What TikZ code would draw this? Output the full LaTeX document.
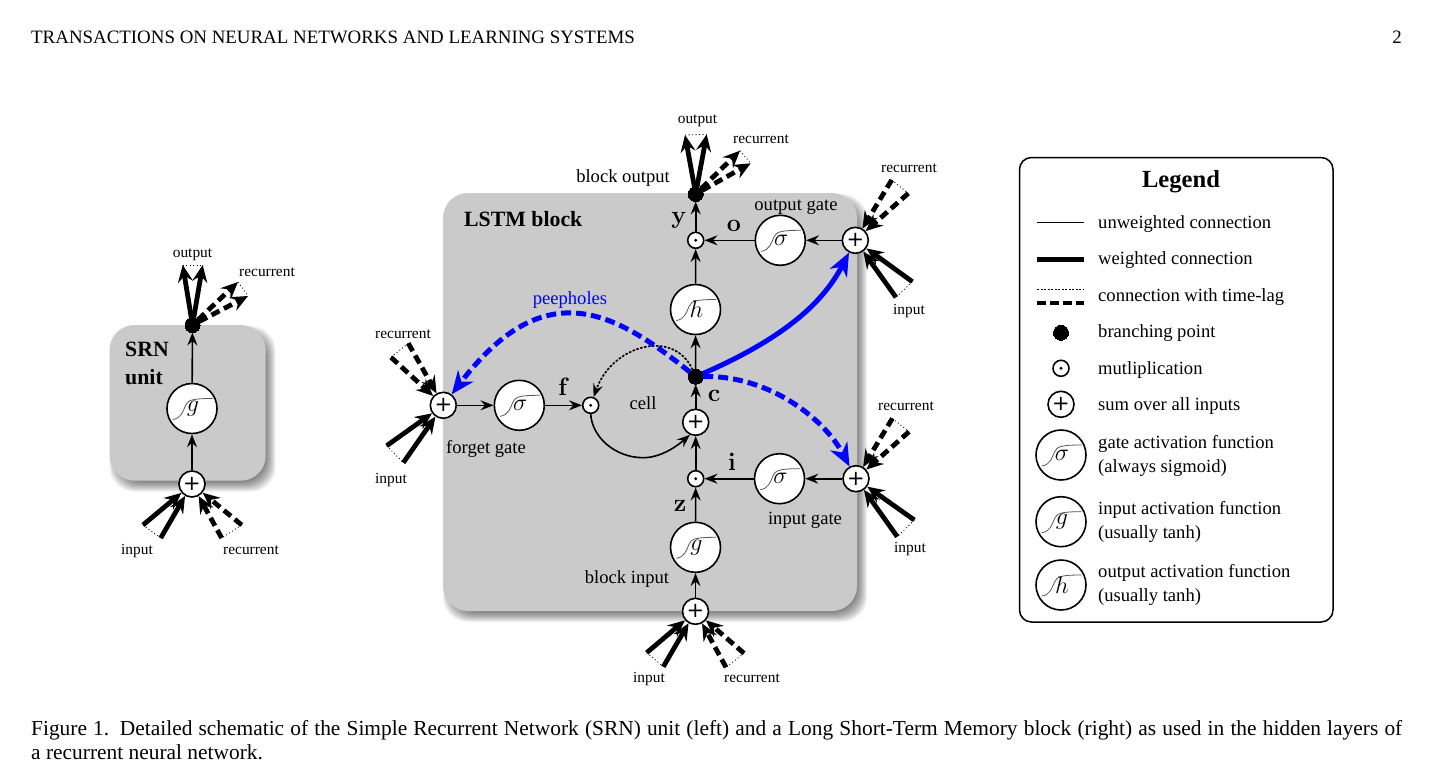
\documentclass[tikz,border=0pt]{standalone}
\usepackage{fix-cm}
\usepackage[no-math]{fontspec}
\setmainfont{Liberation Serif}
\newfontfamily\plusfont{DejaVu Sans}
\usetikzlibrary{arrows.meta}
\definecolor{blockgray}{HTML}{CACACA}
\newcommand{\softshadow}[4]{%
  \foreach \e in {5,4,3,2,1,0,-1,-2,-3,-4,-5}{%
    \fill[black,opacity=.055,rounded corners=25pt] ({#1+5-\e},{#2+6-\e}) rectangle ({#3+5+\e},{#4+6+\e});
  }%
}
\newcommand{\fnc}[4]{%
  \node[fn] (#1) at (#2,#3) {};
  \begin{scope}[shift={(#2,#3)}]
    \draw[sigcurve] (-19.3,11) .. controls (-11,10) and (-9,3) .. (-6.5,-3) .. controls (-4,-8.5) and (0,-10) .. (20.5,-10);
    \node[fnsym] (#1sym) at (1,0) {$#4$};
  \end{scope}
}
\tikzset{
  lab/.style={font=\fontsize{18.6}{22}\selectfont,anchor=mid,inner sep=0pt,yshift=-4pt},
  small/.style={font=\fontsize{15.4}{18}\selectfont,anchor=mid,inner sep=0pt,yshift=-3pt},
  boldl/.style={font=\fontsize{21.8}{26}\selectfont\bfseries,anchor=mid,inner sep=0pt},
  vec/.style={font=\fontsize{25}{28}\selectfont,anchor=mid,inner sep=0pt,yshift=-4pt},
  leg/.style={font=\fontsize{18.6}{23.5}\selectfont,anchor=west,inner sep=0pt,align=left,yshift=-2pt},
  fn/.style={circle,draw=black,line width=1.6pt,fill=white,minimum size=50pt,inner sep=0pt},
  fnsym/.style={font=\fontsize{24}{26}\selectfont,inner sep=0pt},
  sigcurve/.style={draw=black!65,line width=.8pt},
  sumn/.style={circle,draw=black,line width=1.6pt,fill=white,minimum size=26pt,inner sep=0pt,font=\fontsize{21}{21}\selectfont\plusfont},
  multn/.style={circle,draw=black,line width=1.6pt,fill=white,minimum size=16pt,inner sep=0pt,
    path picture={\fill[black] (path picture bounding box.center) circle (1.6pt);}},
  branch/.style={circle,fill=black,draw=black,line width=0pt,minimum size=15pt,inner sep=0pt},
  thinc/.style={line width=1.6pt,-{Stealth[length=13pt,width=10pt,inset=4.5pt]}},
  wt/.style={line width=4.8pt,-{Stealth[length=17pt,width=15pt,inset=6pt]}},
  lag/.style={line width=4.8pt,dash pattern=on 9pt off 5pt,-{Stealth[length=17pt,width=15pt,inset=6pt]}},
  dots/.style={line width=.8pt,dash pattern=on 1pt off 2.5pt},
  blueline/.style={blue,line width=5pt,-{Stealth[length=23pt,width=19pt,inset=7pt]}},
  bluedash/.style={blueline,dash pattern=on 10pt off 5pt},
}
\begin{document}
\begin{tikzpicture}[x=1pt,y=-1pt]
\useasboundingbox[fill=white] (0,0) rectangle (1435,780);

% header and caption
\node[anchor=base west,inner sep=0pt,font=\fontsize{18.9}{20}\selectfont] (head) at (31,43) {TRANSACTIONS ON NEURAL NETWORKS AND LEARNING SYSTEMS};
\node[anchor=base east,inner sep=0pt,font=\fontsize{18.9}{20}\selectfont] (pnum) at (1402,43.5) {2};
\node[anchor=north west,inner sep=0pt,text width=1371pt,align=justify,font=\fontsize{21.4}{24}\selectfont] (capt) at (31,720)
  {Figure 1.\hspace{.5em}Detailed schematic of the Simple Recurrent Network (SRN) unit (left) and a Long Short-Term Memory block (right) as used in the hidden layers of\linebreak a recurrent neural network.\par};

% blocks
\softshadow{109.5}{325}{265.7}{480.7}
\fill[blockgray,rounded corners=25pt] (109.5,325) rectangle (265.7,480.7);
\softshadow{443}{193}{857}{611}
\fill[blockgray,rounded corners=25pt] (443,193) rectangle (857,611);
\node[boldl,anchor=base west] (srnA) at (125,356) {SRN};
\node[boldl,anchor=base west] (srnB) at (125,384) {unit};
\node[boldl,anchor=base west] (lstm) at (464,226) {LSTM block};

% SRN nodes
\node[branch] (sb) at (192.5,325) {};
\fnc{sg}{192}{408.5}{g}
\node[sumn] (sp) at (192,484) {+};
\coordinate (soa) at (182.7,265);
\coordinate (sob) at (202.7,265);
\coordinate (sra) at (238,282);
\coordinate (srb) at (248,296);
\coordinate (sia) at (143,525);
\coordinate (sib) at (160.7,538);
\coordinate (sqa) at (241.7,525);
\coordinate (sqb) at (221.7,538);
\draw[thinc] (sp) -- (sg);
\draw[thinc] (sg) -- (sb);
\draw[wt] (sb) -- (soa);
\draw[wt] (sb) -- (sob);
\draw[lag] (sb) -- (sra);
\draw[lag] (sb) -- (srb);
\draw[wt] (sia) -- (sp);
\draw[wt] (sib) -- (sp);
\draw[lag] (sqa) -- (sp);
\draw[lag] (sqb) -- (sp);
\draw[dots] (soa) -- (sob);
\draw[dots] (sra) -- (srb);
\draw[dots] (sia) -- (sib);
\draw[dots] (sqa) -- (sqb);
\node[small] (l1) at (192.5,252) {output};
\node[small] (l2) at (267,271) {recurrent};
\node[small] (l3) at (137,549) {input};
\node[small] (l4) at (251,549) {recurrent};

% LSTM nodes
\node[branch] (yb) at (695.7,194) {};
\node[multn] (om) at (695.7,240.3) {};
\fnc{osig}{780.3}{240.3}{\sigma}
\node[sumn] (op) at (855.3,240.3) {+};
\fnc{hf}{695.5}{309.5}{h}
\node[branch] (cb) at (695.7,376.7) {};
\node[sumn] (cp) at (695.7,422.3) {+};
\node[multn] (im) at (695.7,478.7) {};
\node[multn] (fm) at (590.7,405.3) {};
\fnc{fsig}{519.3}{405.3}{\sigma}
\node[sumn] (fp) at (443.3,405.3) {+};
\fnc{isig}{779.5}{478.7}{\sigma}
\node[sumn] (ip) at (856,478.7) {+};
\fnc{gf}{695.5}{547.3}{g}
\node[sumn] (bp) at (695.5,611.3) {+};

\coordinate (yoa) at (685,135);
\coordinate (yob) at (706.7,134.3);
\coordinate (yra) at (740,150.7);
\coordinate (yrb) at (750.7,163.3);
\coordinate (ora) at (891.7,180);
\coordinate (orb) at (908.3,193.3);
\coordinate (oia) at (912.3,281.7);
\coordinate (oib) at (896,297.3);
\coordinate (fra) at (408.3,343.3);
\coordinate (frb) at (391,357.3);
\coordinate (fia) at (386.7,445.7);
\coordinate (fib) at (403.3,462.7);
\coordinate (ira) at (892.4,418.4);
\coordinate (irb) at (909,431.7);
\coordinate (iia) at (914.3,520);
\coordinate (iib) at (897.3,536.7);
\coordinate (bia) at (646.7,652.7);
\coordinate (bib) at (663.3,666.7);
\coordinate (bqa) at (744,653.3);
\coordinate (bqb) at (726,667.3);

\draw[thinc] (bp) -- (gf);
\draw[thinc] (gf) -- (im);
\draw[thinc] (im) -- (cp);
\draw[thinc] (cp) -- (cb);
\draw[thinc] (cb) -- (hf);
\draw[thinc] (hf) -- (om);
\draw[thinc] (om) -- (yb);
\draw[thinc] (op) -- (osig);
\draw[thinc] (osig) -- (om);
\draw[thinc] (ip) -- (isig);
\draw[thinc] (isig) -- (im);
\draw[thinc] (fp) -- (fsig);
\draw[thinc] (fsig) -- (fm);
\draw[thinc] (fm.south) .. controls (592,437) and (615,457.7) .. (643.3,457.7) .. controls (660,457.7) and (676,447) .. (cp.245);
\draw[thinc,dash pattern=on 2.5pt off 1.5pt] (cb) .. controls (674,328) and (612,345) .. (fm);

\draw[wt] (yb) -- (yoa);
\draw[wt] (yb) -- (yob);
\draw[lag] (yb) -- (yra);
\draw[lag] (yb) -- (yrb);
\draw[lag] (ora) -- (op);
\draw[lag] (orb) -- (op);
\draw[wt] (oia) -- (op);
\draw[wt] (oib) -- (op);
\draw[lag] (fra) -- (fp);
\draw[lag] (frb) -- (fp);
\draw[wt] (fia) -- (fp);
\draw[wt] (fib) -- (fp);
\draw[lag] (ira) -- (ip);
\draw[lag] (irb) -- (ip);
\draw[wt] (iia) -- (ip);
\draw[wt] (iib) -- (ip);
\draw[wt] (bia) -- (bp);
\draw[wt] (bib) -- (bp);
\draw[lag] (bqa) -- (bp);
\draw[lag] (bqb) -- (bp);
\draw[dots] (yoa) -- (yob);
\draw[dots] (yra) -- (yrb);
\draw[dots] (ora) -- (orb);
\draw[dots] (oia) -- (oib);
\draw[dots] (fra) -- (frb);
\draw[dots] (fia) -- (fib);
\draw[dots] (ira) -- (irb);
\draw[dots] (iia) -- (iib);
\draw[dots] (bia) -- (bib);
\draw[dots] (bqa) -- (bqb);

\draw[bluedash] (cb) .. controls (615,312) and (545,272) .. (fp);
\draw[blueline] (cb) .. controls (780,340) and (822,305) .. (op);
\draw[bluedash] (cb) .. controls (770,375) and (825,420) .. (ip);

\node[small] (t1) at (697.5,118) {output};
\node[small] (t2) at (761,138) {recurrent};
\node[small] (t3) at (909,167) {recurrent};
\node[small] (t4) at (909,309) {input};
\node[small] (t5) at (403,333) {recurrent};
\node[small] (t6) at (391,478) {input};
\node[small] (t7) at (906,405) {recurrent};
\node[small] (t8) at (910,547) {input};
\node[small] (t9) at (649,677) {input};
\node[small] (t10) at (752,677) {recurrent};
\node[lab] (m1) at (623,176) {block output};
\node[lab] (m2) at (796,204) {output gate};
\node[lab,text=blue] (m3) at (570,298) {peepholes};
\node[lab] (m4) at (486,447) {forget gate};
\node[lab] (m5) at (643,403) {cell};
\node[lab] (m6) at (805,518) {input gate};
\node[lab] (m7) at (627,577) {block input};
\node[vec] (v1) at (679,217) {$\mathbf{y}$};
\node[vec] (v2) at (734,225) {$\mathbf{o}$};
\node[vec] (v3) at (564,389) {$\mathbf{f}$};
\node[vec] (v4) at (714,395) {$\mathbf{c}$};
\node[vec] (v5) at (732,464) {$\mathbf{i}$};
\node[vec] (v6) at (680,505) {$\mathbf{z}$};

% legend
\draw[line width=1.5pt,rounded corners=12pt] (1019.5,157.5) rectangle (1333,622);
\node[font=\fontsize{24.6}{28}\selectfont\bfseries,anchor=mid,inner sep=0pt,yshift=-6pt] (lt) at (1181,179) {Legend};
\coordinate (a1) at (1037.3,222.7); \coordinate (a2) at (1084.3,222.7);
\coordinate (b1) at (1037.3,259.3); \coordinate (b2) at (1084.3,259.3);
\coordinate (c1) at (1037.3,289.3); \coordinate (c2) at (1084.3,289.3);
\coordinate (d1) at (1037.3,302.7); \coordinate (d2) at (1084.3,302.7);
\draw[line width=1.3pt] (a1) -- (a2);
\draw[line width=4.4pt] (b1) -- (b2);
\draw[line width=1.3pt,dash pattern=on 2pt off 1.5pt] (c1) -- (c2);
\draw[line width=4.4pt,dash pattern=on 9pt off 4pt] (d1) -- (d2);
\node[branch] (lb) at (1061,332.7) {};
\node[multn] (lm) at (1061,368.3) {};
\node[sumn] (lp) at (1061,404.3) {+};
\fnc{ls}{1061}{455}{\sigma}
\fnc{lg}{1061}{521.7}{g}
\fnc{lh}{1061}{585}{h}
\node[leg] (e1) at (1098,222) {unweighted connection};
\node[leg] (e2) at (1098,258) {weighted connection};
\node[leg] (e3) at (1098,295) {connection with time-lag};
\node[leg] (e4) at (1098,331) {branching point};
\node[leg] (e5) at (1098,368) {mutliplication};
\node[leg] (e6) at (1098,404) {sum over all inputs};
\node[leg] (e7) at (1098,454) {gate activation function\\(always sigmoid)};
\node[leg] (e8) at (1098,520) {input activation function\\(usually tanh)};
\node[leg] (e9) at (1098,583) {output activation function\\(usually tanh)};
\end{tikzpicture}
\end{document}
